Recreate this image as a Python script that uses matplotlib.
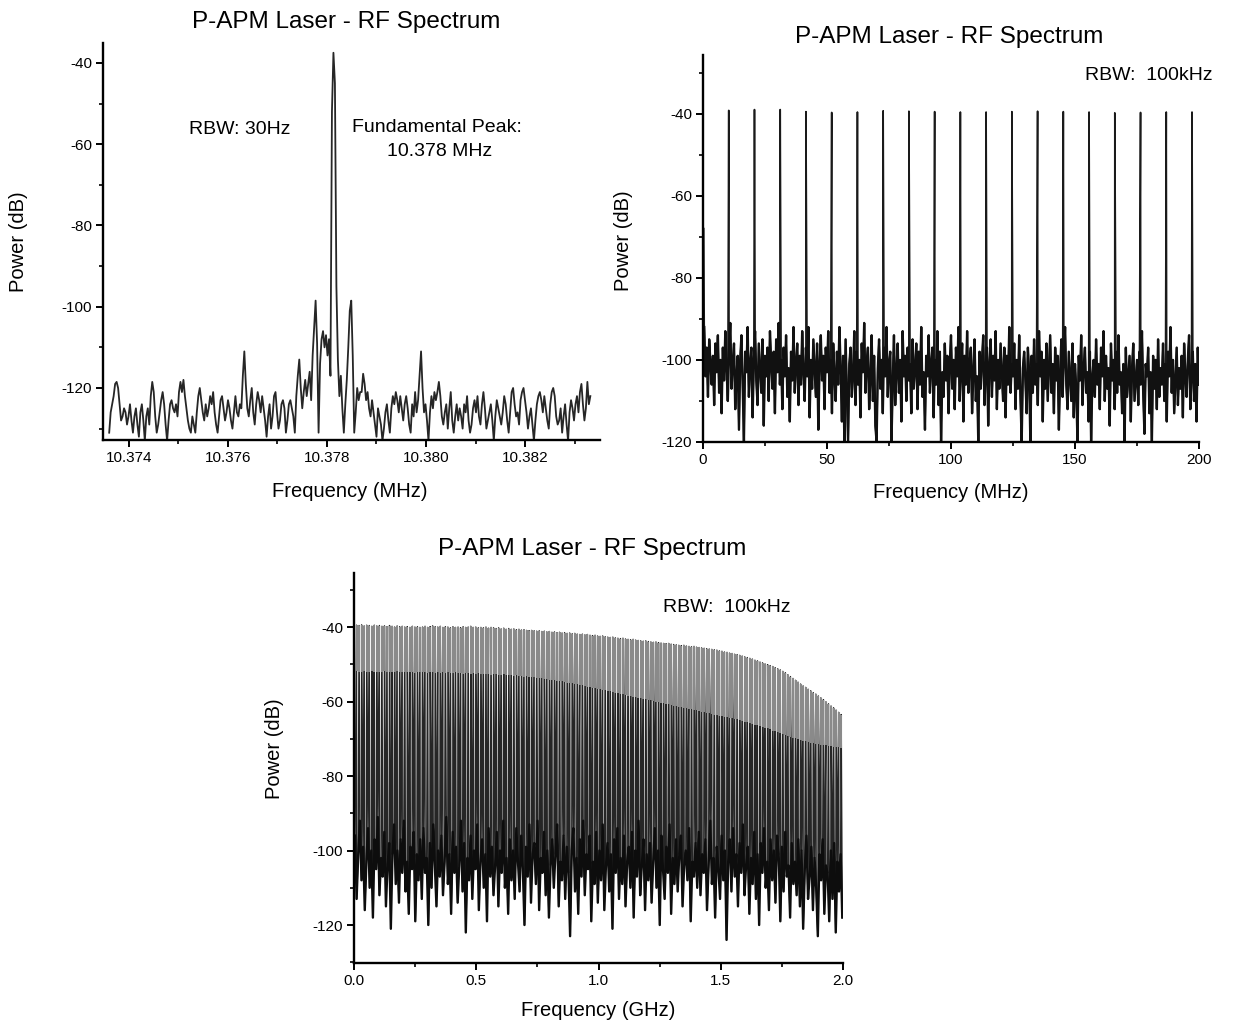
import numpy as np
import matplotlib
matplotlib.use("Agg")
import matplotlib.pyplot as plt
from matplotlib.ticker import MultipleLocator, FormatStrFormatter

plt.rcParams['font.family'] = ['Liberation Sans', 'DejaVu Sans']
plt.rcParams['axes.unicode_minus'] = False

# ---------------------------------------------------------------------------
# Data
# ---------------------------------------------------------------------------
FUND_MHZ = 10.378          # fundamental repetition rate (MHz)

# (a) narrow span around the fundamental, RBW 30 Hz
fund_start_mhz = 10.3736
fund_step_mhz = 0.00003
fund_power = [
    -131, -126, -124, -122, -119, -118.5, -120, -124, -128, -127,
    -125, -126, -129, -127, -124, -128, -131, -127, -125, -129,
    -132, -126, -124, -128, -133, -127, -125, -129, -122, -118.5,
    -121, -127, -131, -129, -126, -123, -121, -124, -129, -133,
    -128, -124, -123, -125, -126, -124, -127, -121, -118.5, -121,
    -118, -122, -125, -128, -130, -131, -127, -129, -131, -126,
    -122, -120, -123, -126, -128, -124, -127, -125, -122, -124,
    -121, -126, -129, -131, -127, -123, -122, -125, -128, -126,
    -123, -125, -128, -130, -126, -122, -126, -127, -124, -125,
    -117, -111, -119, -125, -127, -123, -120, -126, -129, -124,
    -121, -123, -126, -122, -125, -128, -132, -127, -124, -130,
    -127, -122, -121, -126, -130, -128, -124, -123, -125, -131,
    -128, -124, -123, -125, -127, -131, -122, -117, -113, -120,
    -125, -121, -118, -122, -119, -116, -123, -112, -105, -98.5,
    -109, -131, -114, -108, -106, -110, -107, -112, -108, -117,
    -52, -37.5, -45, -95, -113, -122, -117, -125, -131, -124,
    -118, -110, -101, -98.5, -112, -131, -126, -120, -123, -121,
    -121, -116.5, -119, -123, -121, -125, -127, -123, -126, -129,
    -132, -125, -127, -129, -133, -130, -126, -124, -128, -131,
    -125, -122, -124, -121, -123, -126, -122, -125, -128, -124,
    -122, -125, -129, -131, -124, -127, -121, -126, -123, -117,
    -111, -120, -126, -124, -128, -133, -126, -122, -125, -121,
    -123, -121, -118.5, -122, -127, -129, -126, -124, -130, -125,
    -121, -128, -131, -127, -124, -128, -125, -127, -130, -124,
    -126, -122, -128, -131, -129, -125, -123, -126, -122, -127,
    -129, -124, -121, -125, -130, -128, -126, -124, -128, -133,
    -127, -123, -125, -127, -129, -126, -122, -124, -128, -131,
    -126, -121, -120, -124, -127, -126, -129, -123, -121, -120,
    -123, -126, -130, -127, -125, -129, -133, -128, -124, -122,
    -121, -123, -126, -122, -125, -128, -130, -124, -121, -120,
    -122, -127, -129, -128, -125, -131, -127, -124, -129, -133,
    -126, -123, -125, -128, -124, -122, -126, -121, -119, -124,
    -128, -125, -118.5, -124, -122,
]

# (b) 0-200 MHz span, RBW 100 kHz
harm_b_power = [-39.2, -39.0, -39.0, -39.5, -39.7, -39.6, -39.3, -39.4, -39.5, -39.6,
                -39.6, -39.5, -39.4, -39.5, -39.6, -39.8, -39.7, -39.6, -39.6]
dc_b_freq = 0.3
dc_b_power = -68
noise_b_start, noise_b_step = 0.5, 0.5
noise_b = [
    -92, -104, -97, -109, -95, -101, -106, -99, -111, -96,
    -103, -94, -108, -100, -113, -97, -105, -93, -102, -110,
    -98, -91, -107, -101, -96, -112, -104, -99, -117, -100,
    -94, -106, -120, -98, -103, -92, -109, -101, -97, -114,
    -100, -93, -105, -111, -96, -102, -108, -95, -116, -99,
    -104, -97, -110, -93, -101, -107, -98, -113, -95, -103,
    -91, -106, -100, -112, -97, -104, -94, -109, -102, -115,
    -98, -105, -92, -108, -101, -96, -111, -99, -106, -93,
    -103, -110, -97, -104, -92, -114, -100, -107, -95, -102,
    -109, -96, -117, -101, -94, -105, -99, -112, -97, -103,
    -93, -108, -100, -113, -96, -104, -110, -98, -106, -92,
    -102, -115, -99, -120, -95, -107, -120, -101, -97, -109,
    -104, -93, -111, -98, -106, -100, -114, -96, -103, -91,
    -108, -101, -97, -112, -105, -94, -110, -99, -116, -120,
    -102, -95, -107, -100, -113, -97, -104, -92, -109, -101,
    -98, -120, -106, -94, -111, -103, -96, -108, -100, -115,
    -93, -104, -99, -110, -97, -105, -101, -113, -95, -107,
    -102, -96, -112, -98, -106, -92, -109, -103, -117, -99,
    -104, -94, -108, -101, -97, -114, -100, -106, -93, -111,
    -98, -120, -103, -109, -96, -105, -99, -113, -101, -94,
    -107, -100, -112, -97, -104, -92, -110, -102, -96, -115,
    -99, -106, -93, -108, -101, -97, -113, -103, -95, -110,
    -104, -120, -98, -107, -100, -94, -111, -102, -97, -116,
    -101, -95, -109, -99, -105, -93, -112, -100, -107, -96,
    -103, -110, -97, -114, -99, -106, -92, -108, -101, -104,
    -96, -112, -100, -107, -94, -109, -120, -102, -98, -105,
    -113, -97, -103, -120, -99, -108, -95, -106, -101, -111,
    -93, -104, -98, -115, -100, -107, -96, -110, -102, -94,
    -108, -101, -113, -97, -105, -99, -117, -103, -95, -109,
    -100, -92, -106, -112, -98, -104, -110, -96, -114, -101,
    -107, -120, -99, -105, -94, -111, -102, -97, -108, -103,
    -115, -98, -120, -104, -100, -109, -95, -106, -101, -112,
    -97, -104, -93, -110, -99, -107, -102, -116, -96, -105,
    -100, -112, -98, -108, -94, -106, -103, -113, -101, -120,
    -97, -109, -104, -99, -115, -102, -96, -110, -105, -100,
    -111, -98, -106, -93, -108, -118, -101, -104, -97, -113,
    -103, -120, -99, -107, -100, -112, -95, -109, -102, -106,
    -96, -110, -101, -115, -98, -104, -92, -108, -100, -113,
    -105, -97, -111, -102, -107, -99, -114, -96, -104, -109,
    -100, -94, -112, -103, -98, -110, -101, -115, -97, -106,
]

# (c) 0-2 GHz span, RBW 100 kHz: harmonic tips and the level where each line broadens
harm_c_peak = [
    -39.5, -39.6, -39.4, -39.7, -39.5, -39.6, -39.8, -39.5, -39.7, -39.6,
    -39.8, -39.7, -39.9, -39.6, -39.8, -40.0, -39.7, -39.9, -39.8, -40.0,
    -39.9, -40.1, -39.8, -40.0, -39.9, -40.1, -40.0, -39.8, -40.1, -39.9,
    -39.7, -39.9, -40.0, -39.8, -40.1, -39.9, -40.0, -40.2, -39.9, -40.1,
    -40.0, -40.2, -39.9, -40.1, -40.0, -39.8, -40.1, -40.0, -40.2, -40.1,
    -40.2, -40.0, -40.3, -40.1, -40.2, -40.4, -40.2, -40.5, -40.3, -40.6,
    -40.4, -40.6, -40.5, -40.7, -40.6, -40.8, -40.7, -40.9, -41.0, -40.9,
    -41.0, -41.1, -41.0, -41.2, -41.1, -41.3, -41.2, -41.4, -41.3, -41.5,
    -41.4, -41.6, -41.5, -41.7, -41.6, -41.8, -41.7, -41.9, -42.0, -41.9,
    -42.1, -42.0, -42.2, -42.3, -42.2, -42.4, -42.5, -42.4, -42.6, -42.7,
    -42.8, -42.7, -42.9, -43.0, -43.1, -43.0, -43.2, -43.3, -43.4, -43.3,
    -43.5, -43.6, -43.7, -43.8, -43.7, -43.9, -44.0, -44.1, -44.0, -44.2,
    -44.3, -44.4, -44.5, -44.4, -44.6, -44.7, -44.8, -44.9, -45.0, -44.9,
    -45.1, -45.2, -45.3, -45.2, -45.4, -45.5, -45.6, -45.7, -45.8, -45.9,
    -46.0, -46.1, -46.2, -46.4, -46.5, -46.7, -46.8, -47.0, -47.1, -47.3,
    -47.4, -47.6, -47.8, -48.0, -48.2, -48.4, -48.6, -48.9, -49.1, -49.4,
    -49.6, -49.9, -50.1, -50.4, -50.6, -50.9, -51.2, -51.5, -51.9, -52.3,
    -52.8, -53.3, -53.8, -54.3, -54.8, -55.3, -55.8, -56.2, -56.7, -57.1,
    -57.6, -58.0, -58.5, -59.0, -59.5, -60.1, -60.6, -61.2, -61.7, -62.3,
    -62.9, -63.5,
]
harm_c_skirt = [
    -51.8, -52.0, -52.1, -51.9, -52.0, -52.2, -51.9, -52.0, -52.1, -52.0,
    -52.1, -51.9, -52.0, -52.2, -52.0, -52.1, -51.9, -52.2, -52.0, -52.1,
    -52.2, -52.0, -52.1, -52.3, -52.1, -52.0, -52.2, -52.1, -52.3, -52.2,
    -52.1, -52.3, -52.2, -52.4, -52.2, -52.3, -52.1, -52.4, -52.3, -52.2,
    -52.4, -52.3, -52.5, -52.3, -52.4, -52.6, -52.4, -52.5, -52.3, -52.6,
    -52.5, -52.7, -52.6, -52.8, -52.6, -52.7, -52.9, -52.8, -52.7, -52.9,
    -53.0, -52.9, -53.1, -53.0, -53.2, -53.1, -53.3, -53.2, -53.4, -53.5,
    -53.4, -53.6, -53.7, -53.8, -53.9, -54.0, -54.1, -54.2, -54.3, -54.4,
    -54.5, -54.6, -54.8, -54.9, -55.0, -55.1, -55.3, -55.4, -55.5, -55.7,
    -55.8, -56.0, -56.1, -56.3, -56.4, -56.6, -56.7, -56.9, -57.0, -57.2,
    -57.3, -57.5, -57.6, -57.8, -57.9, -58.1, -58.2, -58.4, -58.5, -58.7,
    -58.8, -59.0, -59.1, -59.3, -59.4, -59.6, -59.7, -59.9, -60.0, -60.2,
    -60.3, -60.5, -60.6, -60.8, -60.9, -61.1, -61.2, -61.4, -61.5, -61.7,
    -61.8, -62.0, -62.1, -62.3, -62.4, -62.6, -62.7, -62.9, -63.0, -63.2,
    -63.3, -63.5, -63.6, -63.8, -63.9, -64.1, -64.2, -64.4, -64.5, -64.7,
    -64.8, -65.0, -65.2, -65.4, -65.6, -65.8, -66.0, -66.2, -66.4, -66.6,
    -66.8, -67.0, -67.2, -67.5, -67.8, -68.0, -68.3, -68.5, -68.8, -69.0,
    -69.2, -69.5, -69.7, -69.9, -70.1, -70.3, -70.5, -70.7, -70.9, -71.1,
    -71.2, -71.4, -71.5, -71.6, -71.7, -71.8, -71.9, -72.0, -72.1, -72.2,
    -72.3, -72.4,
]
noise_c_start, noise_c_stop = 0.004, 1.997
noise_c = [
    -96, -113, -101, -92, -108, -99, -116, -103, -94, -110,
    -100, -118, -97, -105, -91, -112, -102, -107, -95, -115,
    -104, -98, -121, -101, -93, -109, -100, -114, -97, -106,
    -92, -111, -103, -117, -99, -105, -95, -119, -101, -108,
    -97, -113, -94, -106, -102, -120, -98, -110, -93, -104,
    -115, -100, -107, -96, -112, -103, -91, -109, -101, -117,
    -95, -106, -99, -114, -104, -92, -111, -98, -122, -102,
    -108, -96, -113, -100, -105, -93, -116, -103, -97, -110,
    -101, -119, -94, -107, -99, -112, -104, -95, -115, -100,
    -106, -92, -110, -102, -117, -97, -108, -100, -113, -94,
    -103, -111, -96, -105, -120, -99, -107, -93, -114, -101,
    -98, -109, -92, -116, -102, -106, -95, -112, -100, -118,
    -104, -97, -110, -101, -93, -115, -103, -108, -96, -113,
    -99, -106, -123, -100, -94, -111, -102, -117, -97, -107,
    -92, -112, -101, -105, -96, -119, -103, -109, -95, -114,
    -100, -108, -93, -116, -104, -98, -111, -101, -121, -97,
    -106, -94, -113, -102, -109, -96, -115, -103, -99, -110,
    -95, -118, -100, -107, -92, -112, -104, -97, -116, -101,
    -108, -98, -114, -103, -94, -110, -100, -120, -96, -105,
    -113, -99, -106, -93, -117, -102, -109, -97, -111, -101,
    -96, -115, -104, -100, -108, -94, -119, -103, -107, -98,
    -110, -95, -112, -101, -106, -97, -116, -104, -92, -109,
    -102, -118, -99, -105, -113, -96, -108, -100, -124, -103,
    -97, -111, -94, -107, -101, -115, -98, -106, -93, -112,
    -104, -99, -117, -102, -109, -95, -113, -101, -120, -98,
    -106, -94, -110, -103, -116, -97, -108, -100, -114, -96,
    -101, -119, -99, -111, -95, -107, -104, -118, -98, -109,
    -103, -112, -97, -115, -100, -121, -105, -96, -113, -107,
    -99, -116, -102, -110, -123, -101, -108, -97, -117, -104,
    -106, -119, -100, -113, -98, -122, -103, -111, -101, -118,
]

TITLE = "P-APM Laser - RF Spectrum"

# ---------------------------------------------------------------------------
# Figure
# ---------------------------------------------------------------------------
W, H = 1233, 1028
fig = plt.figure(figsize=(W / 100, H / 100), dpi=100)


def axes_px(left, top, right, bottom):
    return fig.add_axes([left / W, 1 - bottom / H, (right - left) / W, (bottom - top) / H])


def ftext(x, y, s, **kw):
    fig.text(x / W, 1 - y / H, s, **kw)


def style(ax):
    for side in ("top", "right"):
        ax.spines[side].set_visible(False)
    for side in ("left", "bottom"):
        ax.spines[side].set_linewidth(1.7)
    ax.tick_params(which="major", direction="out", length=5, width=1.4,
                   labelsize=11, pad=3, colors="black")
    ax.tick_params(which="minor", direction="out", length=3, width=1.2)
    ax.set_facecolor("none")


LABEL_FS = 14.5
TITLE_FS = 17.5
NOTE_FS = 14

# ---- (a) fundamental -------------------------------------------------------
ax1 = axes_px(103, 43, 600, 440)
f1 = fund_start_mhz + fund_step_mhz * np.arange(len(fund_power))
ax1.plot(f1, fund_power, color="#262626", lw=1.3)
ax1.set_xlim(10.373475, 10.383515)
ax1.set_ylim(-132.8, -35.1)
ax1.xaxis.set_major_locator(MultipleLocator(0.002))
ax1.xaxis.set_minor_locator(MultipleLocator(0.001))
ax1.xaxis.set_major_formatter(FormatStrFormatter("%.3f"))
ax1.yaxis.set_major_locator(MultipleLocator(20))
ax1.yaxis.set_minor_locator(MultipleLocator(10))
style(ax1)
ax1.set_xlabel("Frequency (MHz)", fontsize=LABEL_FS)
ax1.set_ylabel("Power (dB)", fontsize=LABEL_FS)
ax1.xaxis.set_label_coords(0.497, -0.107)
ax1.yaxis.set_label_coords(-0.15, 0.5)
ftext(346, 22, TITLE, fontsize=TITLE_FS, ha="center", va="center")
ftext(240, 129, "RBW: 30Hz", fontsize=NOTE_FS, ha="center", va="center")
ftext(437, 128, "Fundamental Peak:", fontsize=NOTE_FS, ha="center", va="center")
ftext(440, 151, f"{FUND_MHZ:.3f} MHz", fontsize=NOTE_FS, ha="center", va="center")

# ---- (b) 0-200 MHz -------------------------------------------------------------
ax2 = axes_px(703, 55, 1199, 442)
harm_b_freq = FUND_MHZ * np.arange(1, len(harm_b_power) + 1)
noise_b_freq = noise_b_start + noise_b_step * np.arange(len(noise_b))
fb = np.concatenate([[dc_b_freq], harm_b_freq, noise_b_freq])
pb = np.concatenate([[dc_b_power], harm_b_power, noise_b])
order = np.argsort(fb)
ax2.plot(fb[order], pb[order], color="#1a1a1a", lw=1.2)
ax2.plot(noise_b_freq, noise_b, color="#111111", lw=1.7)
ax2.set_xlim(0, 200)
ax2.set_ylim(-120, -25.7)
ax2.xaxis.set_major_locator(MultipleLocator(50))
ax2.xaxis.set_minor_locator(MultipleLocator(25))
ax2.yaxis.set_major_locator(MultipleLocator(20))
ax2.yaxis.set_minor_locator(MultipleLocator(10))
style(ax2)
ax2.set_xlabel("Frequency (MHz)", fontsize=LABEL_FS)
ax2.set_ylabel("Power (dB)", fontsize=LABEL_FS)
ax2.xaxis.set_label_coords(0.50, -0.105)
ax2.yaxis.set_label_coords(-0.142, 0.52)
ftext(949, 37, TITLE, fontsize=TITLE_FS, ha="center", va="center")
ftext(1213, 75, "RBW:  100kHz", fontsize=NOTE_FS, ha="right", va="center")

# ---- (c) 0-2 GHz ---------------------------------------------------------------
ax3 = axes_px(354, 573, 843, 963)
fund_ghz = FUND_MHZ / 1000.0
harm_c_freq = fund_ghz * np.arange(1, len(harm_c_peak) + 1)
noise_c_freq = np.linspace(noise_c_start, noise_c_stop, len(noise_c))
fc = np.concatenate([harm_c_freq, noise_c_freq])
pc = np.concatenate([harm_c_peak, noise_c])
order = np.argsort(fc)
ax3.plot(fc[order], pc[order], color="#262626", lw=1.0)
ax3.plot(noise_c_freq, noise_c, color="#0d0d0d", lw=1.7)
# narrow tips of the comb lines above the broadened skirt
ax3.vlines(harm_c_freq, harm_c_skirt, harm_c_peak, color="#8a8a8a", lw=1.5)
ax3.set_xlim(0, 2.0)
ax3.set_ylim(-130.2, -25.5)
ax3.xaxis.set_major_locator(MultipleLocator(0.5))
ax3.xaxis.set_minor_locator(MultipleLocator(0.25))
ax3.xaxis.set_major_formatter(FormatStrFormatter("%.1f"))
ax3.yaxis.set_major_locator(MultipleLocator(20))
ax3.yaxis.set_minor_locator(MultipleLocator(10))
style(ax3)
ax3.set_xlabel("Frequency (GHz)", fontsize=LABEL_FS)
ax3.set_ylabel("Power (dB)", fontsize=LABEL_FS)
ax3.xaxis.set_label_coords(0.50, -0.098)
ax3.yaxis.set_label_coords(-0.143, 0.55)
ftext(592, 549, TITLE, fontsize=TITLE_FS, ha="center", va="center")
ftext(727, 607, "RBW:  100kHz", fontsize=NOTE_FS, ha="center", va="center")

fig.savefig("out.png", dpi=100, facecolor="white")
